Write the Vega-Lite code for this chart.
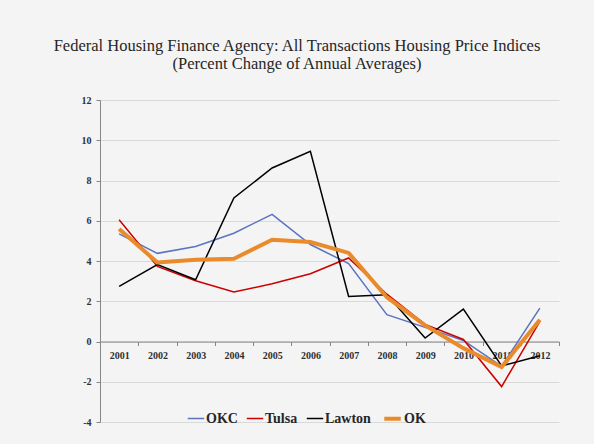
{
  "$schema": "https://vega.github.io/schema/vega-lite/v6.json",
  "width": 459,
  "height": 322,
  "autosize": {"type": "none"},
  "padding": {"left": 100, "top": 100, "right": 35, "bottom": 22},
  "background": "#F4F4F4",
  "title": {
    "text": ["Federal Housing Finance Agency: All Transactions Housing Price Indices", "(Percent Change of Annual Averages)"],
    "font": "Liberation Serif",
    "fontSize": 16.5,
    "fontWeight": "normal",
    "color": "#262626",
    "anchor": "middle",
    "dx": -32.5,
    "offset": 23,
    "lineHeight": 18
  },
  "data": {
    "values": [
      {"year": "2001", "city": "OKC", "v": 5.35},
      {"year": "2002", "city": "OKC", "v": 4.38},
      {"year": "2003", "city": "OKC", "v": 4.72},
      {"year": "2004", "city": "OKC", "v": 5.38},
      {"year": "2005", "city": "OKC", "v": 6.32},
      {"year": "2006", "city": "OKC", "v": 4.82},
      {"year": "2007", "city": "OKC", "v": 3.87},
      {"year": "2008", "city": "OKC", "v": 1.33},
      {"year": "2009", "city": "OKC", "v": 0.7},
      {"year": "2010", "city": "OKC", "v": 0.05},
      {"year": "2011", "city": "OKC", "v": -1.24},
      {"year": "2012", "city": "OKC", "v": 1.66},
      {"year": "2001", "city": "Tulsa", "v": 6.05},
      {"year": "2002", "city": "Tulsa", "v": 3.73},
      {"year": "2003", "city": "Tulsa", "v": 3.02},
      {"year": "2004", "city": "Tulsa", "v": 2.46},
      {"year": "2005", "city": "Tulsa", "v": 2.87},
      {"year": "2006", "city": "Tulsa", "v": 3.37},
      {"year": "2007", "city": "Tulsa", "v": 4.15},
      {"year": "2008", "city": "Tulsa", "v": 2.35},
      {"year": "2009", "city": "Tulsa", "v": 0.85},
      {"year": "2010", "city": "Tulsa", "v": 0.1},
      {"year": "2011", "city": "Tulsa", "v": -2.24},
      {"year": "2012", "city": "Tulsa", "v": 1.0},
      {"year": "2001", "city": "Lawton", "v": 2.74},
      {"year": "2002", "city": "Lawton", "v": 3.82},
      {"year": "2003", "city": "Lawton", "v": 3.07},
      {"year": "2004", "city": "Lawton", "v": 7.13},
      {"year": "2005", "city": "Lawton", "v": 8.62},
      {"year": "2006", "city": "Lawton", "v": 9.45},
      {"year": "2007", "city": "Lawton", "v": 2.24},
      {"year": "2008", "city": "Lawton", "v": 2.32},
      {"year": "2009", "city": "Lawton", "v": 0.17},
      {"year": "2010", "city": "Lawton", "v": 1.61},
      {"year": "2011", "city": "Lawton", "v": -1.21},
      {"year": "2012", "city": "Lawton", "v": -0.71},
      {"year": "2001", "city": "OK", "v": 5.59},
      {"year": "2002", "city": "OK", "v": 3.93},
      {"year": "2003", "city": "OK", "v": 4.06},
      {"year": "2004", "city": "OK", "v": 4.11},
      {"year": "2005", "city": "OK", "v": 5.06},
      {"year": "2006", "city": "OK", "v": 4.94},
      {"year": "2007", "city": "OK", "v": 4.4},
      {"year": "2008", "city": "OK", "v": 2.2},
      {"year": "2009", "city": "OK", "v": 0.8},
      {"year": "2010", "city": "OK", "v": -0.33},
      {"year": "2011", "city": "OK", "v": -1.27},
      {"year": "2012", "city": "OK", "v": 1.08}
    ]
  },
  "mark": {"type": "line", "strokeJoin": "miter"},
  "encoding": {
    "x": {
      "field": "year",
      "type": "ordinal",
      "scale": {"type": "band", "paddingInner": 0, "paddingOuter": 0},
      "axis": {
        "title": null,
        "labelAngle": 0,
        "tickBand": "extent",
        "offset": -80.5,
        "grid": false,
        "domainColor": "#868686",
        "tickColor": "#868686",
        "tickSize": 4,
        "labelFont": "Liberation Serif",
        "labelFontWeight": "bold",
        "labelFontSize": 10,
        "labelColor": "#303030",
        "labelPadding": 5
      }
    },
    "y": {
      "field": "v",
      "type": "quantitative",
      "scale": {"domain": [-4, 12], "nice": false, "zero": false},
      "axis": {
        "title": null,
        "values": [-4, -2, 0, 2, 4, 6, 8, 10, 12],
        "labelExpr": "'' + datum.value",
        "gridColor": "#D9D9D9",
        "domainColor": "#868686",
        "tickColor": "#868686",
        "tickSize": 4,
        "labelFont": "Liberation Serif",
        "labelFontWeight": "bold",
        "labelFontSize": 10,
        "labelColor": "#303030",
        "labelPadding": 5
      }
    },
    "color": {
      "field": "city",
      "type": "nominal",
      "scale": {"domain": ["OKC", "Tulsa", "Lawton", "OK"], "range": ["#5A74BE", "#CC0000", "#000000", "#E98B2B"]},
      "legend": {"title": null}
    },
    "strokeWidth": {
      "field": "city",
      "type": "nominal",
      "scale": {"type": "ordinal", "domain": ["OKC", "Tulsa", "Lawton", "OK"], "range": [1.5, 1.5, 1.5, 4]},
      "legend": {"title": null}
    }
  },
  "config": {
    "view": {"stroke": null},
    "legend": {
      "orient": "none",
      "legendX": 87,
      "legendY": 308,
      "direction": "horizontal",
      "symbolType": "stroke",
      "symbolSize": 270,
      "labelFont": "Liberation Serif",
      "labelFontWeight": "bold",
      "labelFontSize": 14,
      "labelColor": "#262626",
      "labelOffset": 1,
      "columnPadding": 5,
      "padding": 0
    }
  }
}
